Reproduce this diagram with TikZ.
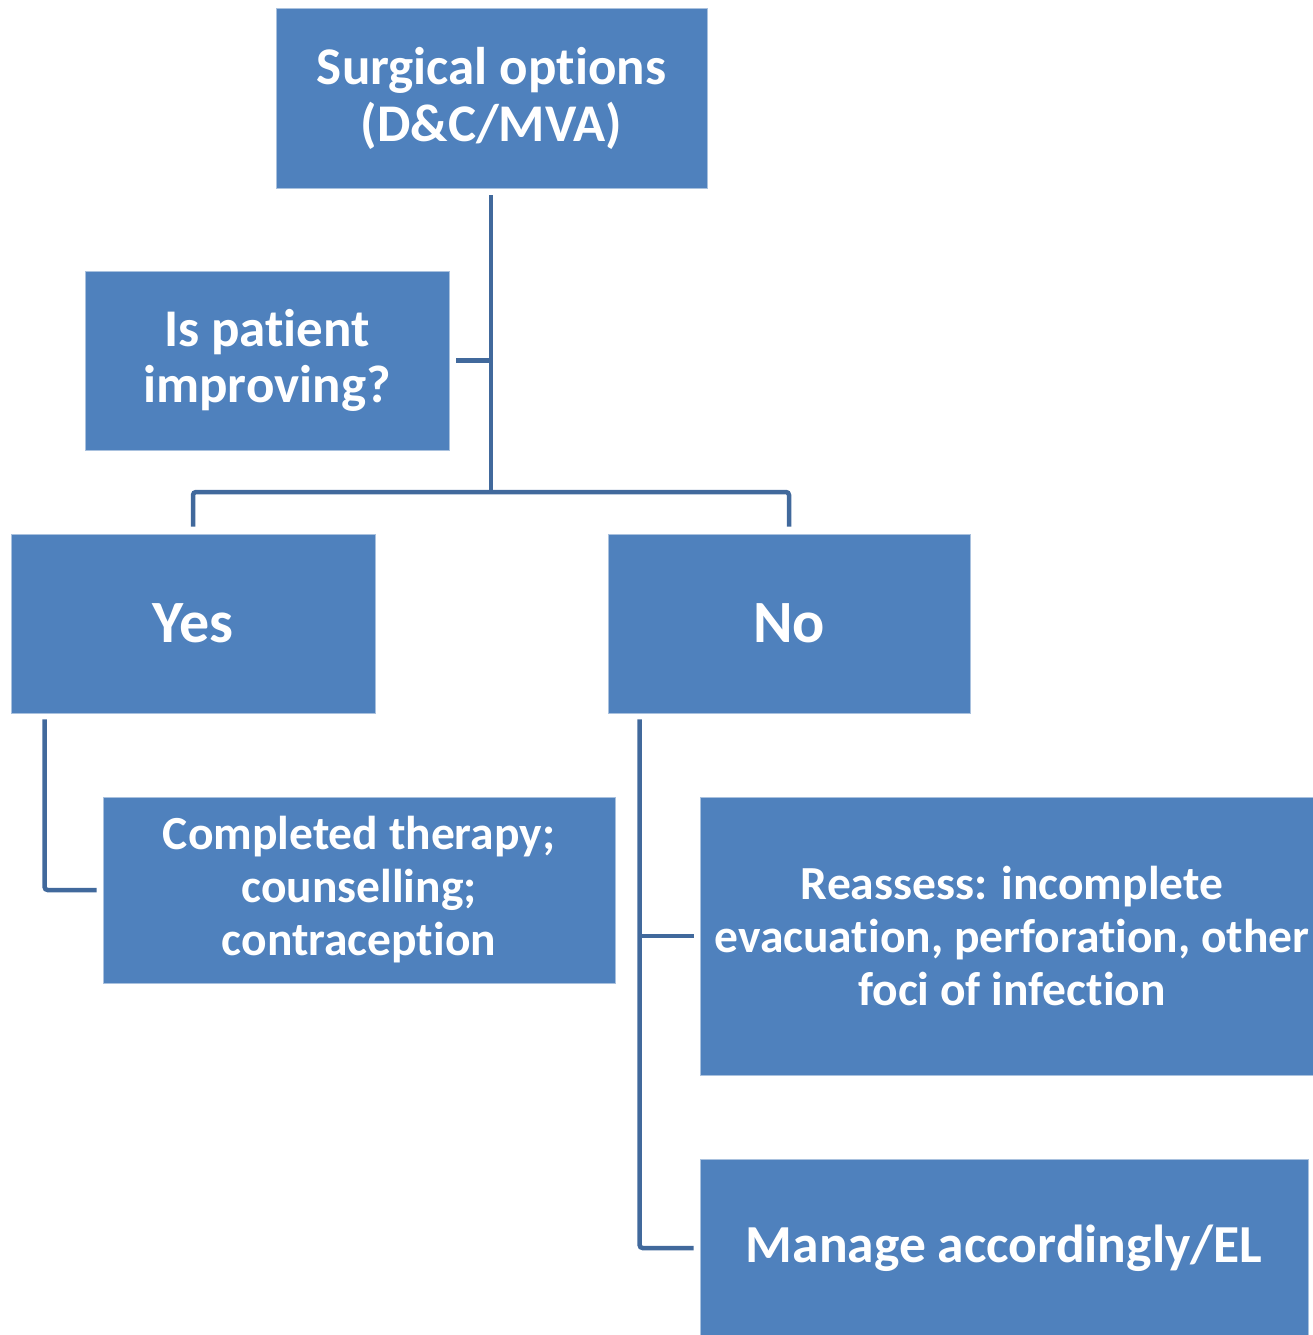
\documentclass[tikz,border=0pt]{standalone}
\usepackage{fontspec}
\setmainfont{Carlito}[RawFeature={-liga;-calt;-dlig;-clig}]
\definecolor{boxblue}{HTML}{4F81BD}
\definecolor{lineblue}{HTML}{41699C}
\definecolor{edgeblue}{HTML}{A9C1DE}
\begin{document}
\begin{tikzpicture}[x=1pt,y=-1pt,
  box/.style={rectangle, fill=boxblue, draw=edgeblue, line width=0.8pt, inner sep=0pt,
    align=center, text=white, font=\bfseries},
  conn/.style={draw=lineblue, line width=4.5pt, rounded corners=3pt}]
\useasboundingbox (0,0) rectangle (1313,1335);
\node[box, minimum width=431pt, minimum height=180pt, font=\bfseries\fontsize{53}{57}\selectfont] (top) at (491.5,98) {Surgical options\\(D\&C/MVA)};
\node[box, minimum width=364pt, minimum height=179pt, font=\bfseries\fontsize{53}{56}\selectfont] (q) at (267,360.5) {Is patient\\improving?};
\node[box, minimum width=364pt, minimum height=179pt, font=\bfseries\fontsize{60}{64}\selectfont] (yes) at (193,623.5) {Yes};
\node[box, minimum width=362pt, minimum height=179pt, font=\bfseries\fontsize{60}{64}\selectfont] (no) at (789,623.5) {No};
\node[box, minimum width=512pt, minimum height=186pt, font=\bfseries\fontsize{47.5}{53}\selectfont] (done) at (359,890) {Completed therapy;\\counselling;\\contraception};
\node[box, minimum width=624pt, minimum height=278pt, font=\bfseries\fontsize{47.5}{53}\selectfont] (re) at (1012,936) {Reassess: incomplete\\evacuation, perforation, other\\foci of infection};
\node[box, minimum width=608pt, minimum height=178pt, font=\bfseries\fontsize{53.5}{57}\selectfont] (man) at (1004,1248) {Manage accordingly/EL};
\coordinate (j1) at (491,492);
\draw[conn] ([yshift=-7pt]top.south -| j1) -- (j1);
\draw[conn] ([xshift=7pt]q.east) -- (q.east -| j1);
\draw[conn] ([yshift=7pt]yes.north) |- (j1) -| ([yshift=7pt]no.north);
\draw[conn] ([xshift=34pt,yshift=-6pt]yes.south west) |- ([xshift=-6pt]done.west);
\draw[conn] ([xshift=32pt,yshift=-6pt]no.south west) |- ([xshift=-6pt]man.west);
\draw[conn] ([xshift=32pt]no.south west |- re.west) -- ([xshift=-6pt]re.west);
\end{tikzpicture}
\end{document}
